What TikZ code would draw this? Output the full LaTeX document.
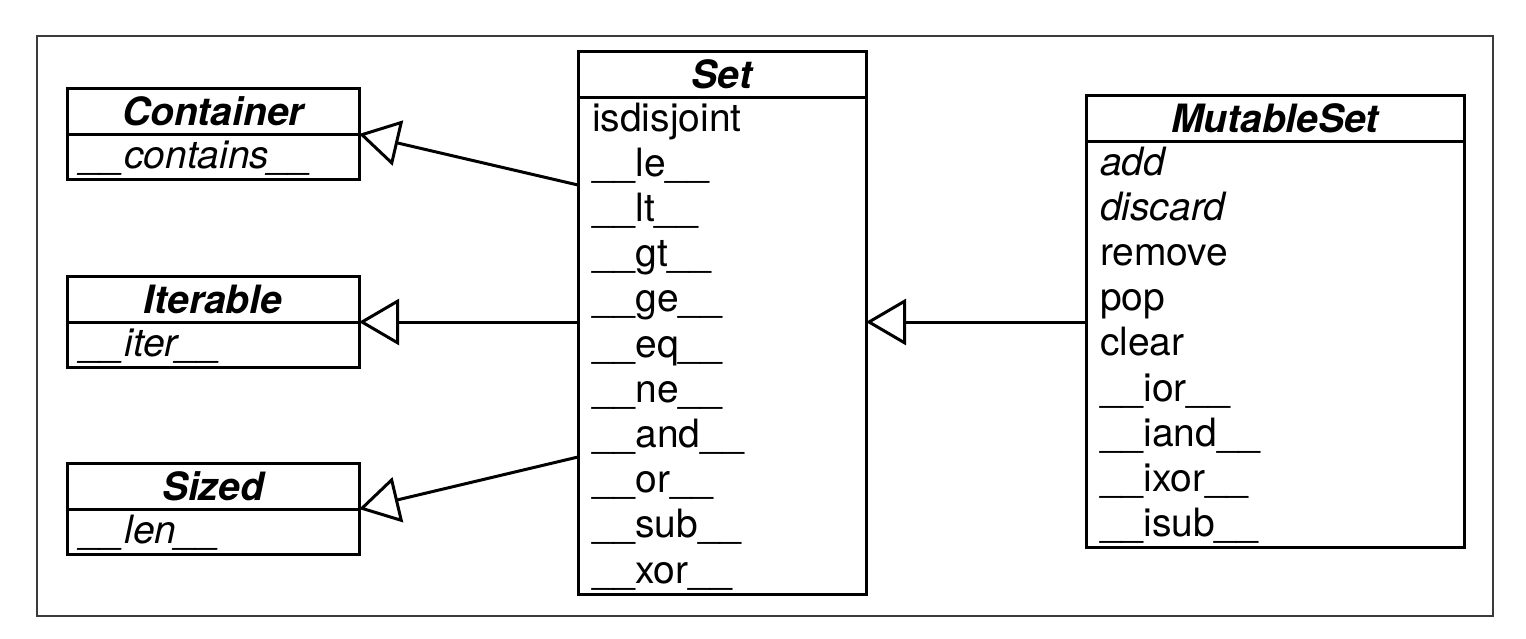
\documentclass[tikz,border=0pt]{standalone}
\usepackage{fontspec}
\setmainfont{TeX Gyre Heros}
\usepackage{xcolor}
\definecolor{cLine}{HTML}{000000}
\definecolor{cFrame}{HTML}{3A3A3A}
\usetikzlibrary{positioning,arrows.meta}
\newcommand{\dunder}[1]{\_\_#1\_\_}
\tikzset{
  class-head/.style={draw=cLine,line width=1.5pt,outer sep=0pt,inner sep=0pt,
    minimum width=#1,minimum height=23pt,
    font=\fontsize{19.5}{22.6}\selectfont\bfseries\itshape},
  class-body/.style={draw=cLine,line width=1.5pt,outer sep=0pt,
    inner xsep=7pt,inner ysep=0pt,text width=#1,align=left,
    font=\fontsize{19.5}{22.6}\selectfont,
    execute at begin node=\rule{0pt}{17pt},
    execute at end node=\rule[-5.6pt]{0pt}{5.6pt}},
  arrow-inherit/.style={-{Triangle[open,length=20pt,width=23pt]},
    line width=1.5pt,draw=cLine},
  frame/.style={draw=cFrame,line width=0.7pt},
}

\begin{document}
\begin{tikzpicture}[x=1pt,y=1pt]
  \useasboundingbox (0,0) rectangle (763,-319);
  \draw[frame] (18.5,-18) rectangle (746.5,-308);

  % abstract bases on the left
  \node[class-head=146pt,anchor=north west] (contH) at (33.5,-44) {Container};
  \node[class-body=132pt,below=0pt of contH] (contB) {\itshape\dunder{contains}};
  \node[class-head=146pt,anchor=north west] (iterH) at (33.5,-138) {Iterable};
  \node[class-body=132pt,below=0pt of iterH] (iterB) {\itshape\dunder{iter}};
  \node[class-head=146pt,anchor=north west] (sizedH) at (33.5,-231.5) {Sized};
  \node[class-body=132pt,below=0pt of sizedH] (sizedB) {\itshape\dunder{len}};

  % Set
  \node[class-head=144pt,anchor=north west] (setH) at (289,-25.5) {Set};
  \node[class-body=130pt,below=0pt of setH] (setB) {isdisjoint\\
    \dunder{le}\\ \dunder{lt}\\ \dunder{gt}\\ \dunder{ge}\\ \dunder{eq}\\
    \dunder{ne}\\ \dunder{and}\\ \dunder{or}\\ \dunder{sub}\\ \dunder{xor}};

  % MutableSet
  \node[class-head=189pt,anchor=north west] (msH) at (543,-47.5) {MutableSet};
  \node[class-body=175pt,below=0pt of msH] (msB) {\textit{add}\\ \textit{discard}\\
    remove\\ pop\\ clear\\ \dunder{ior}\\ \dunder{iand}\\ \dunder{ixor}\\ \dunder{isub}};

  \coordinate (setIn1) at (289,-92.5);
  \coordinate (setIn3) at (289,-228.5);
  \draw[arrow-inherit] (setIn1) -- (contH.south east);
  \draw[arrow-inherit] (setB.west |- iterH.south east) -- (iterH.south east);
  \draw[arrow-inherit] (setIn3) -- (sizedH.south east);
  \draw[arrow-inherit] (msB.west |- iterH.south) -- (setB.east |- iterH.south);
\end{tikzpicture}
\end{document}
